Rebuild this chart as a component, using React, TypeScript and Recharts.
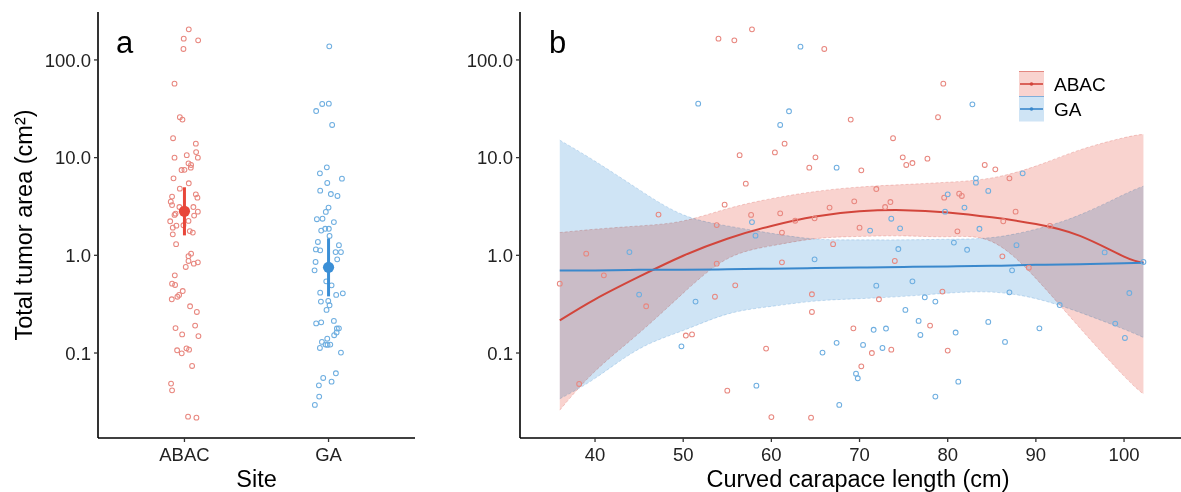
import React from "react";
import { ComposedChart, Scatter, XAxis, YAxis, Area, Line } from "recharts";

const FONT = "'Liberation Sans', Arial, Helvetica, sans-serif";

const RED_PT = "#E8877F";
const BLUE_PT = "#6EAEE0";
const RED_LINE = "#D2453B";
const BLUE_LINE = "#3A88CC";
const RED_MEAN = "#E8473A";
const BLUE_MEAN = "#3B8FD6";
const RED_BAND = "#F9D3CF";
const BLUE_BAND = "#CFE4F5";

const sites = ["ABAC", "GA"];
const yTicks = [0.1, 1, 10, 100];
const lengthTicks = [40, 50, 60, 70, 80, 90, 100];

// panel a: jittered points per site (offset from category centre, tumor area)
const abacJitter = [0.03, -0.005, 0.095, -0.007, -0.069, -0.032, -0.014, -0.079, 0.079, -0.069, 0.016, 0.081, 0.093, 0.028, 0.046, 0.044, -0.02, 0.0, -0.076, 0.03, -0.032, 0.079, 0.09, -0.086, -0.095, -0.086, 0.062, -0.035, 0.093, -0.062, -0.069, -0.099, 0.028, 0.067, -0.056, -0.081, -0.007, -0.081, 0.037, 0.058, -0.058, 0.046, 0.028, 0.028, 0.065, 0.093, 0.009, -0.067, -0.086, -0.065, -0.012, -0.037, -0.049, -0.088, 0.039, 0.086, -0.062, 0.074, -0.016, 0.097, -0.051, -0.019, 0.014, 0.032, 0.053, -0.093, -0.086, 0.025, 0.083];
const abacArea = [205.6, 165, 158.8, 129.4, 57.2, 25.9, 24.5, 15.8, 13.9, 10.0, 10.6, 11.4, 10.0, 8.74, 8.41, 7.89, 7.47, 7.5, 6.14, 5.46, 4.81, 4.21, 3.89, 3.99, 3.54, 3.27, 3.12, 3.12, 2.8, 2.67, 2.59, 2.23, 2.25, 2.55, 2.01, 1.92, 2.03, 1.64, 1.77, 1.71, 1.3, 1.04, 0.98, 0.875, 0.822, 0.848, 0.76, 0.624, 0.513, 0.497, 0.431, 0.393, 0.377, 0.355, 0.301, 0.263, 0.18, 0.191, 0.155, 0.149, 0.1066, 0.0993, 0.1117, 0.1083, 0.0737, 0.0486, 0.0415, 0.0223, 0.0218];
const gaJitter = [0.005, -0.044, 0.002, -0.086, 0.025, -0.012, -0.06, 0.093, -0.009, -0.058, 0.016, 0.062, 0.0, -0.019, -0.081, -0.042, 0.037, -0.051, -0.023, 0.002, 0.007, -0.074, -0.088, -0.058, 0.072, 0.049, 0.086, 0.06, -0.09, -0.097, -0.016, 0.021, -0.058, 0.053, 0.099, -0.053, -0.002, 0.007, -0.014, -0.086, -0.051, 0.037, 0.058, 0.072, 0.056, 0.039, -0.009, -0.046, -0.021, -0.06, -0.007, 0.012, 0.086, 0.051, -0.037, -0.067, 0.021, -0.065, -0.095];
const gaArea = [137.8, 35.4, 35.7, 30.0, 21.6, 7.96, 6.91, 6.09, 5.5, 4.59, 4.24, 4.05, 3.08, 2.78, 2.34, 2.37, 2.19, 1.79, 1.87, 1.87, 1.58, 1.37, 1.15, 1.125, 1.27, 1.08, 1.08, 0.91, 0.855, 0.702, 0.542, 0.493, 0.415, 0.393, 0.408, 0.336, 0.341, 0.308, 0.276, 0.201, 0.206, 0.213, 0.178, 0.179, 0.162, 0.152, 0.14, 0.13, 0.122, 0.1126, 0.121, 0.122, 0.101, 0.062, 0.0555, 0.0467, 0.0509, 0.0358, 0.0294];

// panel a: mean and interval per site
const siteMean = [2.82, 0.753];
const siteLow = [1.6, 0.38];
const siteHigh = [4.97, 1.49];

// panel b: curved carapace length vs tumor area
const abacLength = [54.0, 55.8, 56.4, 54.7, 47.2, 53.8, 39.0, 41.0, 36.0, 53.8, 55.9, 45.8, 53.6, 50.3, 51.0, 38.2, 55.0, 57.8, 66.0, 79.5, 78.9, 69.0, 61.5, 60.4, 73.8, 65.0, 64.3, 70.2, 74.9, 75.3, 76.0, 77.7, 57.1, 71.9, 69.4, 73.5, 72.9, 66.6, 57.7, 61.0, 62.7, 64.9, 79.6, 81.3, 70.0, 61.2, 81.1, 67.0, 61.2, 74.0, 64.6, 72.2, 79.4, 64.6, 78.0, 69.3, 71.4, 73.6, 80.0, 59.4, 70.2, 60.0, 64.5, 84.2, 85.4, 87.0, 81.6, 87.7, 86.3, 91.6, 86.2, 89.2];
const abacSize = [165, 158.7, 10.6, 3.3, 2.61, 2.04, 1.04, 0.624, 0.513, 0.822, 0.493, 0.301, 0.377, 0.151, 0.155, 0.0482, 0.0412, 205.7, 129.4, 57.2, 25.9, 24.5, 13.9, 11.3, 15.8, 10.07, 7.89, 7.41, 10.07, 8.41, 8.81, 9.76, 5.41, 4.77, 3.57, 3.51, 3.12, 3.08, 2.59, 2.69, 2.26, 2.39, 3.89, 4.28, 1.92, 1.71, 1.76, 1.3, 0.848, 0.875, 0.399, 0.355, 0.425, 0.263, 0.191, 0.179, 0.1, 0.1083, 0.1058, 0.111, 0.0731, 0.0221, 0.0218, 8.41, 7.59, 6.14, 4.05, 2.8, 2.23, 2.0, 0.977, 0.748];
const gaLength = [51.7, 43.9, 45.0, 51.4, 49.8, 63.3, 62.0, 61.0, 67.4, 57.8, 80.0, 79.7, 73.6, 74.6, 71.2, 58.2, 80.7, 74.4, 64.9, 76.0, 71.9, 77.4, 78.6, 75.2, 76.7, 76.9, 71.6, 73.0, 80.9, 67.4, 70.4, 72.6, 65.8, 69.6, 69.8, 58.3, 81.2, 78.6, 67.7, 82.8, 83.2, 83.2, 88.5, 84.6, 81.9, 83.6, 87.8, 82.2, 97.8, 87.3, 102.2, 87.0, 100.6, 92.7, 99.0, 100.1, 84.6, 90.4, 86.5];
const gaSize = [35.7, 1.08, 0.396, 0.336, 0.117, 136.7, 29.8, 21.6, 7.89, 2.19, 4.21, 2.8, 2.37, 1.89, 1.79, 1.59, 1.35, 1.16, 0.91, 0.542, 0.489, 0.372, 0.336, 0.276, 0.213, 0.153, 0.173, 0.178, 0.162, 0.127, 0.121, 0.1126, 0.101, 0.0615, 0.0551, 0.0463, 0.0509, 0.0358, 0.0294, 35.1, 6.14, 5.54, 6.91, 4.56, 3.08, 1.87, 1.27, 1.14, 1.07, 0.702, 0.855, 0.418, 0.411, 0.31, 0.2, 0.1425, 0.208, 0.179, 0.13];

// panel b: fitted curves and confidence bands, read at these lengths
const fitLength = [36, 40, 45, 50, 55, 60, 65, 70, 75, 80, 85, 90, 95, 100, 102.2];
const abacFit = [0.216, 0.355, 0.605, 0.99, 1.48, 2.0, 2.5, 2.82, 2.9, 2.75, 2.45, 2.09, 1.58, 0.97, 0.84];
const abacLower = [0.026, 0.065, 0.16, 0.41, 0.92, 1.25, 1.48, 1.56, 1.58, 1.55, 1.38, 0.58, 0.18, 0.058, 0.038];
const abacUpper = [1.71, 1.85, 2.0, 2.25, 3.0, 3.8, 4.5, 5.0, 5.3, 5.6, 6.2, 8.2, 12.0, 16.0, 17.3];
const gaFit = [0.7, 0.7, 0.71, 0.71, 0.72, 0.73, 0.74, 0.75, 0.76, 0.77, 0.78, 0.8, 0.81, 0.83, 0.84];
const gaLower = [0.034, 0.055, 0.11, 0.17, 0.25, 0.3, 0.34, 0.36, 0.38, 0.41, 0.42, 0.36, 0.26, 0.175, 0.144];
const gaUpper = [15.1, 9.2, 4.7, 2.6, 2.0, 1.68, 1.47, 1.44, 1.44, 1.46, 1.52, 1.85, 2.6, 4.2, 5.1];

const yDomain: [number, number] = [0.01349, 309.5];
const fmt = (v: number) => v.toFixed(1);

const abacJitterPts = abacArea.map((y, i) => ({ x: 1 + abacJitter[i], y }));
const gaJitterPts = gaArea.map((y, i) => ({ x: 2 + gaJitter[i], y }));
const meanPts = siteMean.map((y, i) => ({ x: i + 1, y }));
const barPts = (i: number) => [
  { x: i + 1, y: siteLow[i] },
  { x: i + 1, y: siteHigh[i] },
];
const abacPts = abacLength.map((x, i) => ({ x, y: abacSize[i] }));
const gaPts = gaLength.map((x, i) => ({ x, y: gaSize[i] }));
const fitRows = fitLength.map((x, i) => ({
  x,
  abacFit: abacFit[i],
  gaFit: gaFit[i],
  abacBand: [abacLower[i], abacUpper[i]],
  gaBand: [gaLower[i], gaUpper[i]],
}));

const tickStyle = { fontSize: 18.5, fill: "#222", fontFamily: FONT };
const axisStyle = { stroke: "#000", strokeWidth: 1.6 };
const tickLineStyle = { stroke: "#333", strokeWidth: 1.3 };
const chartMargin = { top: 12, right: 5, bottom: 24, left: 0 };

const ring = (color: string) => (p: any) =>
  <circle cx={p.cx} cy={p.cy} r={2.4} fill="none" stroke={color} strokeWidth={1.05} />;
const dot = (color: string) => (p: any) => <circle cx={p.cx} cy={p.cy} r={5.6} fill={color} />;
const nothing = () => <g />;

const legendItems = [
  { name: "ABAC", band: RED_BAND, line: RED_LINE },
  { name: "GA", band: BLUE_BAND, line: BLUE_LINE },
];

const LegendBox = () => (
  <svg width={110} height={52} style={{ position: "absolute", left: 1019, top: 71 }}>
    {legendItems.map((item, i) => (
      <g key={item.name} transform={`translate(0, ${i * 25})`}>
        <rect x={0} y={0.5} width={25} height={25} fill={item.band} />
        <line x1={0} x2={25} y1={0.5} y2={0.5} stroke={item.line} strokeWidth={0.6} />
        <line x1={1} x2={24} y1={13} y2={13} stroke={item.line} strokeWidth={1.6} />
        <circle cx={12.5} cy={13} r={1.8} fill={item.line} />
        <text x={35} y={19.8} fontSize={19} fontFamily={FONT} fill="#000">
          {item.name}
        </text>
      </g>
    ))}
  </svg>
);

export default function App() {
  return (
    <div style={{ position: "absolute", left: 0, top: 0, width: 1181, height: 492, background: "#fff" }}>
      <style>{`.band { mix-blend-mode: multiply; }`}</style>
      <div style={{ position: "absolute", left: 0, top: 0 }}>
        <ComposedChart width={420} height={492} margin={chartMargin}>
          <XAxis
            type="number"
            dataKey="x"
            domain={[0.4, 2.6]}
            ticks={[1, 2]}
            interval={0}
            height={30}
            allowDataOverflow
            tickFormatter={(v: number) => sites[Math.round(v) - 1]}
            tick={tickStyle}
            tickSize={4}
            tickMargin={6}
            axisLine={axisStyle}
            tickLine={tickLineStyle}
          />
          <YAxis
            type="number"
            scale="log"
            domain={yDomain}
            allowDataOverflow
            ticks={yTicks}
            interval={0}
            tickFormatter={fmt}
            width={98}
            tick={tickStyle}
            tickSize={4}
            tickMargin={3}
            axisLine={axisStyle}
            tickLine={tickLineStyle}
          />
          <Scatter data={abacJitterPts} dataKey="y" shape={ring(RED_PT)} isAnimationActive={false} />
          <Scatter data={gaJitterPts} dataKey="y" shape={ring(BLUE_PT)} isAnimationActive={false} />
          <Scatter data={barPts(0)} dataKey="y" line={{ stroke: RED_MEAN, strokeWidth: 3 }} shape={nothing} isAnimationActive={false} />
          <Scatter data={barPts(1)} dataKey="y" line={{ stroke: BLUE_MEAN, strokeWidth: 3 }} shape={nothing} isAnimationActive={false} />
          <Scatter data={[meanPts[0]]} dataKey="y" shape={dot(RED_MEAN)} isAnimationActive={false} />
          <Scatter data={[meanPts[1]]} dataKey="y" shape={dot(BLUE_MEAN)} isAnimationActive={false} />
        </ComposedChart>
      </div>
      <div style={{ position: "absolute", left: 420, top: 0 }}>
        <ComposedChart width={761} height={492} data={fitRows} margin={{ ...chartMargin, right: 0 }}>
          <XAxis
            type="number"
            dataKey="x"
            domain={[31.49, 106.46]}
            ticks={lengthTicks}
            interval={0}
            height={30}
            allowDataOverflow
            tick={tickStyle}
            tickSize={4}
            tickMargin={6}
            axisLine={axisStyle}
            tickLine={tickLineStyle}
          />
          <YAxis
            type="number"
            scale="log"
            domain={yDomain}
            allowDataOverflow
            ticks={yTicks}
            interval={0}
            tickFormatter={fmt}
            width={100}
            tick={tickStyle}
            tickSize={4}
            tickMargin={3}
            axisLine={axisStyle}
            tickLine={tickLineStyle}
          />
          <Area className="band" type="natural" dataKey="gaBand" fill={BLUE_BAND} fillOpacity={1} stroke={BLUE_LINE} strokeOpacity={0.5} strokeWidth={0.5} strokeDasharray="3 2" isAnimationActive={false} />
          <Area className="band" type="natural" dataKey="abacBand" fill={RED_BAND} fillOpacity={1} stroke={RED_LINE} strokeOpacity={0.5} strokeWidth={0.5} strokeDasharray="3 2" isAnimationActive={false} />
          <Line type="natural" dataKey="abacFit" stroke={RED_LINE} strokeWidth={2} dot={false} isAnimationActive={false} />
          <Line type="natural" dataKey="gaFit" stroke={BLUE_LINE} strokeWidth={2} dot={false} isAnimationActive={false} />
          <Scatter data={abacPts} dataKey="y" shape={ring(RED_PT)} isAnimationActive={false} />
          <Scatter data={gaPts} dataKey="y" shape={ring(BLUE_PT)} isAnimationActive={false} />
        </ComposedChart>
      </div>
      <LegendBox />
      <svg width={1181} height={492} style={{ position: "absolute", left: 0, top: 0, pointerEvents: "none" }}>
        <g fontFamily={FONT} fill="#000">
          <text transform="translate(32,225) rotate(-90)" textAnchor="middle" fontSize={23.5}>
            Total tumor area (cm²)
          </text>
          <text x={256.5} y={487} textAnchor="middle" fontSize={23.5}>
            Site
          </text>
          <text x={858} y={487} textAnchor="middle" fontSize={23.5}>
            Curved carapace length (cm)
          </text>
          <text x={116} y={53} fontSize={31}>
            a
          </text>
          <text x={549} y={53} fontSize={31}>
            b
          </text>
        </g>
      </svg>
    </div>
  );
}
